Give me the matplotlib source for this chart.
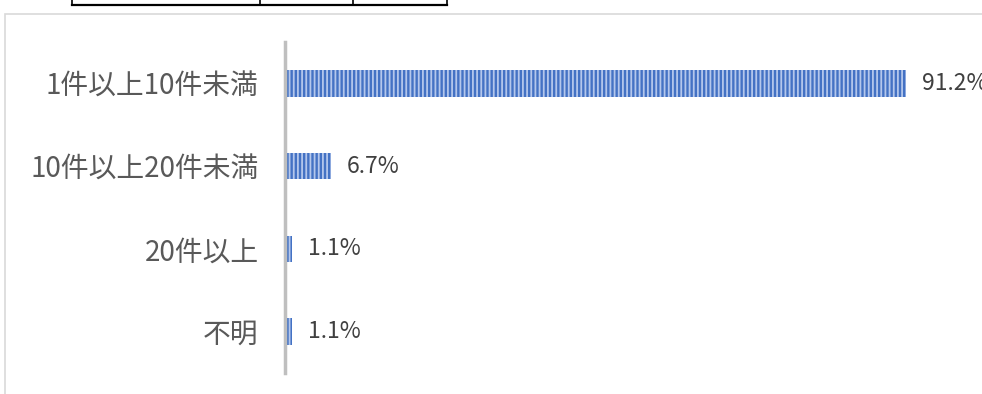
import matplotlib

matplotlib.use("Agg")

import matplotlib.pyplot as plt
from matplotlib.patches import Rectangle
from matplotlib.lines import Line2D

plt.rcParams["font.family"] = ["Noto Sans CJK JP", "DejaVu Sans"]
plt.rcParams["hatch.linewidth"] = 1.3

categories = ["1件以上10件未満", "10件以上20件未満", "20件以上", "不明"]
shares = [91.2, 6.7, 1.1, 1.1]

W, H = 982, 394
fig = plt.figure(figsize=(W / 100, H / 100), dpi=100)


def px(x0, y0, x1, y1):
    # figure fraction rect from pixel box (top-left origin)
    return [x0 / W, 1 - y1 / H, (x1 - x0) / W, (y1 - y0) / H]


# outer chart frame (runs off the right and bottom edges)
fig.patches.append(Rectangle((4.5 / W, -0.2), 1.2, 1.2 - 14 / H, transform=fig.transFigure,
                             fill=False, edgecolor="#d9d9d9", linewidth=1.2))

# bottom of the table row above the chart
for x in [72, 260, 353, 447]:
    fig.add_artist(Line2D([x / W, x / W], [1, 1 - 5 / H], transform=fig.transFigure,
                          color="black", linewidth=1.2))
fig.add_artist(Line2D([72 / W, 447 / W], [1 - 4.5 / H, 1 - 4.5 / H], transform=fig.transFigure,
                      color="black", linewidth=1.6))

ax = fig.add_axes(px(285, 42, 982, 373))
ypos = list(range(len(categories)))
ax.barh(ypos, shares, height=0.32, color="#4472c4", edgecolor="#b4c7ec",
        linewidth=0, hatch="||||")
ax.set_xlim(0, 102.4)
ax.set_ylim(3.5, -0.5)

for y, v in zip(ypos, shares):
    ax.text(v + 2.35, y, f"{v}%", va="center", ha="left", fontsize=16.5,
            color="#404040", clip_on=False)

ax.set_yticks(ypos)
ax.set_yticklabels(categories, fontsize=20, color="#595959")
ax.tick_params(axis="y", length=0, pad=19)
ax.set_xticks([])
for s in ["top", "right", "bottom"]:
    ax.spines[s].set_visible(False)
ax.spines["left"].set_color("#bfbfbf")
ax.spines["left"].set_linewidth(2.5)

fig.savefig("out.png", dpi=100, facecolor="white")
